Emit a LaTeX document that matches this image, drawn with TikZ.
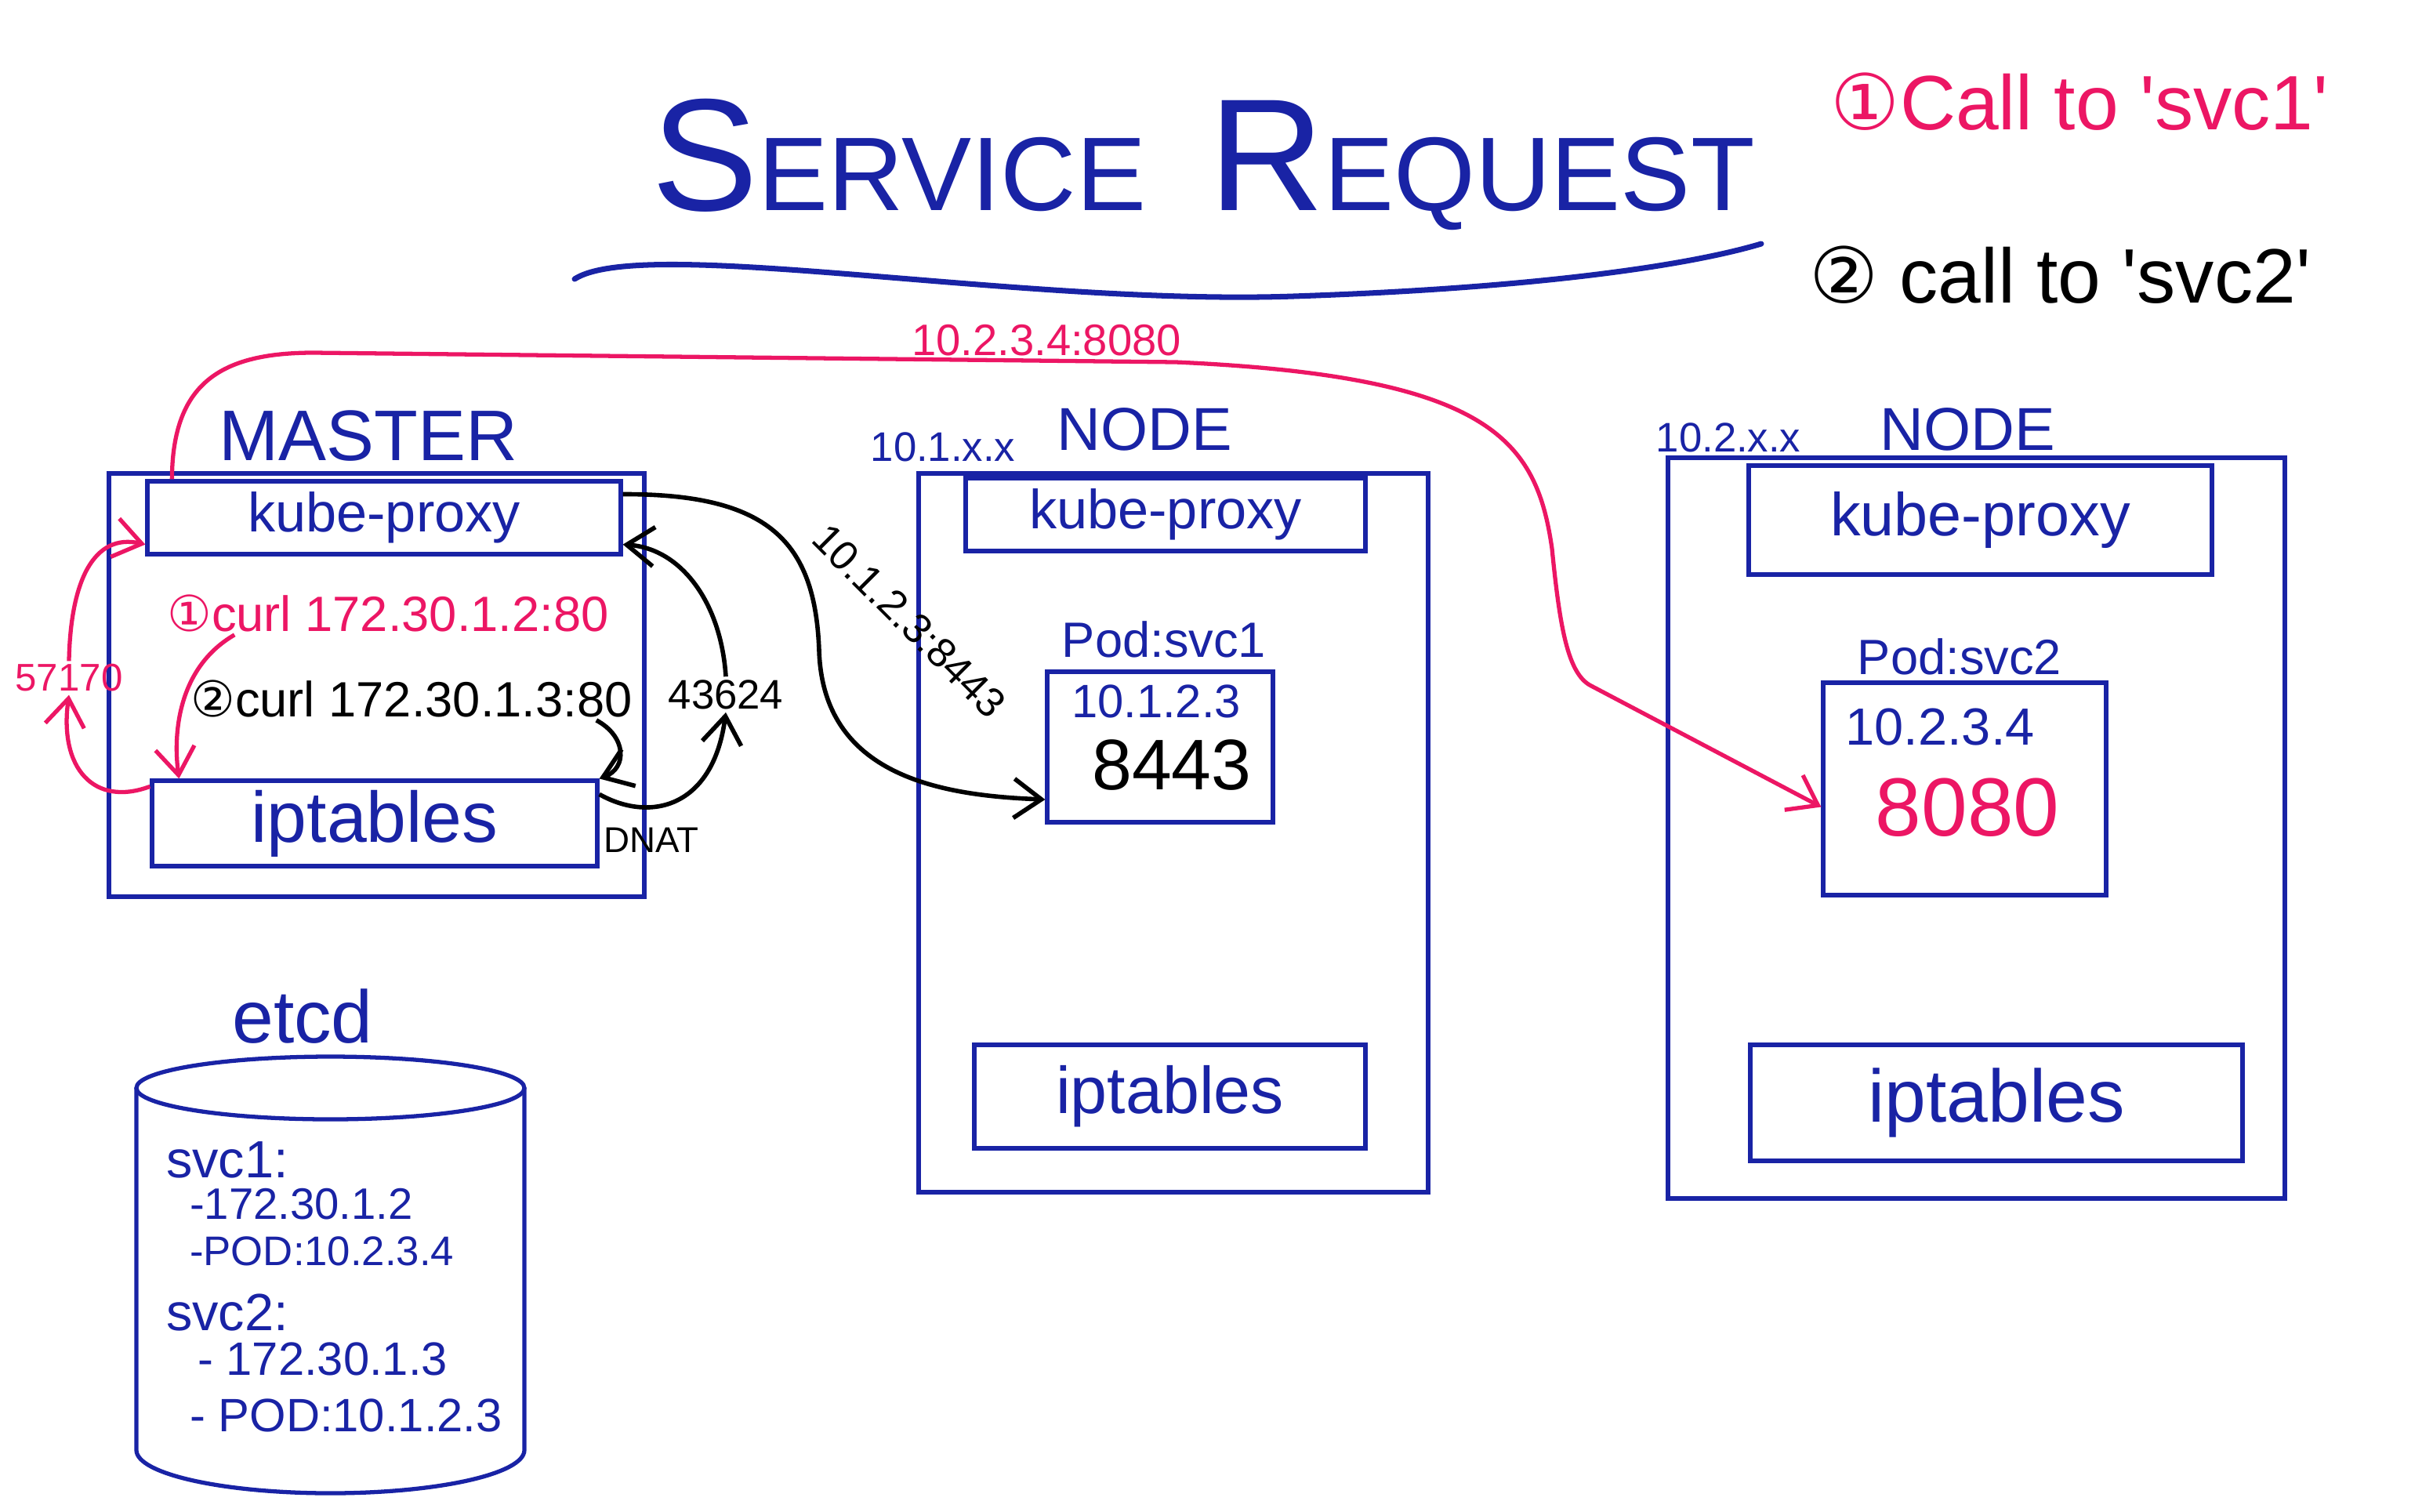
\documentclass[tikz,border=0pt]{standalone}
\usepackage{fontspec}
\setmainfont{Liberation Sans}
\newfontfamily\symfont{DejaVu Sans}
\usetikzlibrary{arrows.meta,positioning}
\definecolor{markerblue}{RGB}{25,35,165}
\definecolor{markerpink}{RGB}{236,22,100}
\newcommand{\fsz}[1]{\fontsize{#1pt}{#1pt}\selectfont}

\begin{document}
\begin{tikzpicture}[>={Straight Barb[length=3.5mm,width=5mm]},
    frame/.style={draw=markerblue, line width=1.5pt, inner sep=0pt},
    compbox/.style={frame, text=markerblue},
    bluetext/.style={text=markerblue, inner sep=1pt},
    pinktext/.style={text=markerpink, inner sep=1pt},
    blacktext/.style={text=black, inner sep=1pt},
    pinkarrow/.style={->, draw=markerpink, line width=1.5pt},
    blackarrow/.style={->, draw=black, line width=1.6pt}]
    \useasboundingbox[fill=white] (0,0) rectangle (31.04,-19.28);

    % title and legend
    \node[bluetext] (title) at (15.35,-2.1) {\fsz{58}S\fsz{38}ERVICE\hspace{0.8cm}\fsz{58}R\fsz{38}EQUEST};
    \draw[markerblue, line width=2pt, line cap=round] (7.33,-3.56) .. controls (8.2,-3.0) and (13.0,-3.9) .. (16.5,-3.78) .. controls (19.5,-3.68) and (21.5,-3.4) .. (22.47,-3.11);
    \node[pinktext, font=\fsz{28}] (call1) at (26.53,-1.30) {{\symfont ①}Call to \textquotesingle svc1\textquotesingle};
    \node[blacktext, font=\fsz{28}] (call2) at (26.28,-3.51) {{\symfont ②} call to \textquotesingle svc2\textquotesingle};

    % master
    \node[bluetext, font=\fsz{26}] (mlabel) at (4.70,-5.56) {MASTER};
    \node[frame, minimum width=6.83cm, minimum height=5.40cm] (master) at (4.805,-8.74) {};
    \node[compbox, minimum width=6.04cm, minimum height=0.93cm, font=\fsz{20}] (mkp) at (4.90,-6.605) {kube-proxy};
    \node[compbox, minimum width=5.68cm, minimum height=1.09cm, font=\fsz{26}] (mip) at (4.78,-10.505) {iptables};
    \node[pinktext, font=\fsz{18}] (curl1) at (4.95,-7.82) {{\symfont ①}curl 172.30.1.2:80};
    \node[blacktext, font=\fsz{18}] (curl2) at (5.25,-8.91) {{\symfont ②}curl 172.30.1.3:80};
    \node[pinktext, font=\fsz{14}] (port57) at (0.88,-8.65) {57170};
    \node[blacktext, font=\fsz{15}] (port43) at (9.26,-8.86) {43624};
    \node[blacktext, font=\fsz{13}] (dnat) at (8.31,-10.72) {DNAT};

    % node 10.1.x.x
    \node[bluetext, font=\fsz{15}] (net1) at (12.03,-5.70) {10.1.x.x};
    \node[bluetext, font=\fsz{22}] (nlabel1) at (14.60,-5.48) {NODE};
    \node[frame, minimum width=6.50cm, minimum height=9.17cm] (node1) at (14.97,-10.625) {};
    \node[compbox, minimum width=5.10cm, minimum height=0.93cm, font=\fsz{20}] (kp1) at (14.87,-6.565) {kube-proxy};
    \node[bluetext, font=\fsz{18}] (podlabel1) at (14.85,-8.16) {Pod:svc1};
    \node[frame, minimum width=2.88cm, minimum height=1.92cm] (pod1) at (14.80,-9.53) {};
    \node[bluetext, font=\fsz{17}] (podip1) at (14.75,-8.95) {10.1.2.3};
    \node[blacktext, font=\fsz{26}] (podport1) at (14.95,-9.76) {8443};
    \node[compbox, minimum width=4.99cm, minimum height=1.32cm, font=\fsz{24}] (ip1) at (14.925,-13.99) {iptables};

    % node 10.2.x.x
    \node[bluetext, font=\fsz{15}] (net2) at (22.05,-5.58) {10.2.x.x};
    \node[bluetext, font=\fsz{22}] (nlabel2) at (25.10,-5.48) {NODE};
    \node[frame, minimum width=7.87cm, minimum height=9.45cm] (node2) at (25.215,-10.565) {};
    \node[compbox, minimum width=5.91cm, minimum height=1.39cm, font=\fsz{22}] (kp2) at (25.265,-6.635) {kube-proxy};
    \node[bluetext, font=\fsz{18}] (podlabel2) at (25.00,-8.38) {Pod:svc2};
    \node[frame, minimum width=3.61cm, minimum height=2.71cm] (pod2) at (25.065,-10.065) {};
    \node[bluetext, font=\fsz{19}] (podip2) at (24.75,-9.27) {10.2.3.4};
    \node[pinktext, font=\fsz{30}] (podport2) at (25.10,-10.30) {8080};
    \node[compbox, minimum width=6.28cm, minimum height=1.48cm, font=\fsz{27}] (ip2) at (25.47,-14.07) {iptables};

    % etcd
    \node[bluetext, font=\fsz{27}] (etcdlabel) at (3.86,-12.97) {etcd};
    \draw[markerblue, line width=1.5pt] (4.215,-13.88) ellipse [x radius=2.475, y radius=0.4];
    \draw[markerblue, line width=1.5pt] (1.74,-13.88) -- (1.74,-18.5) arc[start angle=180, end angle=360, x radius=2.475, y radius=0.55] -- (6.69,-13.88);
    \node[bluetext, font=\fsz{19}, anchor=west] (svc1) at (2.08,-14.80) {svc1:};
    \node[bluetext, font=\fsz{16}, anchor=west] (svc1ip) at (2.38,-15.36) {-172.30.1.2};
    \node[bluetext, font=\fsz{15}, anchor=west] (svc1pod) at (2.38,-15.96) {-POD:10.2.3.4};
    \node[bluetext, font=\fsz{19}, anchor=west] (svc2) at (2.08,-16.74) {svc2:};
    \node[bluetext, font=\fsz{17}, anchor=west] (svc2ip) at (2.48,-17.34) {- 172.30.1.3};
    \node[bluetext, font=\fsz{17}, anchor=west] (svc2pod) at (2.38,-18.06) {- POD:10.1.2.3};

    % call 1 (pink)
    \draw[pinkarrow] ([xshift=9mm]curl1.south west) .. controls (2.3,-8.5) and (2.2,-9.3) .. ([xshift=3.7mm]mip.north west);
    \draw[pinkarrow] ([yshift=-1mm]mip.north west) .. controls (1.2,-10.3) and (0.75,-9.8) .. (port57.south);
    \draw[pinkarrow] (port57.north) .. controls (0.9,-7.4) and (1.2,-6.8) .. ([yshift=1.5mm]mkp.south west);
    \draw[pinkarrow] ([xshift=3.4mm]mkp.north west) .. controls (2.2,-4.9) and (2.8,-4.5) .. (4.0,-4.5) -- node[pinktext, font=\fsz{16}, above, pos=0.85] (lbl8080) {10.2.3.4:8080} (15.0,-4.62) .. controls (19.0,-4.8) and (19.6,-5.6) .. (19.8,-7.0) .. controls (19.9,-8.0) and (20.0,-8.6) .. (20.3,-8.75) -- ([yshift=-2.3mm]pod2.west);

    % call 2 (black)
    \draw[blackarrow] ([xshift=-5mm]curl2.south east) .. controls (8.0,-9.4) and (8.0,-9.8) .. (mip.north east);
    \draw[blackarrow] ([yshift=-2mm]mip.north east) .. controls (8.3,-10.5) and (9.1,-10.3) .. (port43.south);
    \draw[blackarrow] (port43.north) .. controls (9.2,-7.7) and (8.7,-7.0) .. ([yshift=1.5mm]mkp.south east);
    \draw[blackarrow] ([yshift=3mm]mkp.east) .. controls (9.8,-6.3) and (10.4,-6.9) .. (10.45,-8.3) .. controls (10.5,-9.9) and (12.0,-10.15) .. ([yshift=-6.7mm]pod1.west);
    \node[blacktext, font=\fsz{15}, rotate=-45] (lbl8443) at (11.60,-7.92) {10.1.2.3:8443};
  \end{tikzpicture}
\end{document}
